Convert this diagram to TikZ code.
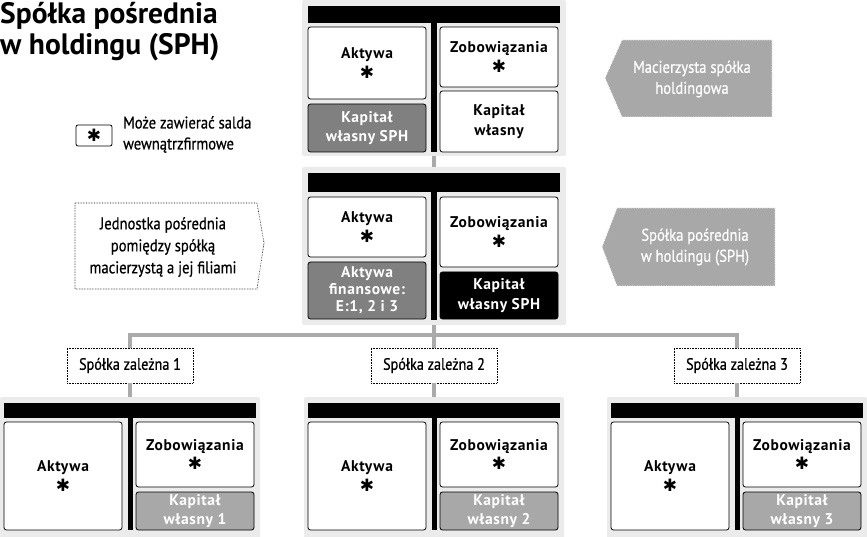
\documentclass[tikz,border=0pt]{standalone}
\usepackage{fontspec}
\setmainfont{PT Sans}
\newfontfamily\boxfont[LetterSpace=4]{PT Sans}
\newfontfamily\condfont[FakeStretch=0.86,FakeBold=0.6]{PT Sans}
\newfontfamily\symfont{DejaVu Sans}
\newcommand{\astk}{{\symfont\fontsize{17}{15}\selectfont ✱}}
\definecolor{panelgray}{HTML}{EBEBEB}
\definecolor{darkgr}{HTML}{808080}
\definecolor{lightgr}{HTML}{A8A8A8}
\definecolor{conngray}{HTML}{AAAAAA}
\begin{document}
\begin{tikzpicture}[x=1pt,y=-1pt,
  panel/.style={fill=panelgray, draw=none, rounded corners=2pt, inner sep=0},
  acc/.style={draw=black, line width=0.8pt, rounded corners=2.5pt, fill=white, inner sep=0,
    align=center, text=black, font=\boxfont\bfseries\fontsize{15.5}{19.5}\selectfont},
  darkacc/.style={acc, fill=darkgr, text=white},
  blackacc/.style={acc, fill=black, text=white},
  lightacc/.style={acc, fill=lightgr, text=white},
  conn/.style={draw=conngray, line width=4pt},
  szbox/.style={draw=black, densely dotted, line width=0.6pt, fill=white, inner sep=0,
    minimum width=126, minimum height=35, font=\condfont\fontsize{16.5}{18}\selectfont},
  callt/.style={align=center, inner sep=0, font=\condfont\fontsize{17}{21}\selectfont}
]
\useasboundingbox (0,0) rectangle (867,537);

% title
\node[anchor=base west, inner sep=0, font=\bfseries\fontsize{29.5}{31}\selectfont] (title1) at (0,24) {Spółka pośrednia};
\node[anchor=base west, inner sep=0, font=\bfseries\fontsize{29.5}{31}\selectfont] (title2) at (0,55) {w holdingu (SPH)};

% legend
\node[draw=black, line width=0.8pt, rounded corners=2pt, minimum width=36, minimum height=21, inner sep=0] (leg) at (94,135.5) {\astk};
\node[anchor=west, align=left, inner sep=0, font=\condfont\fontsize{17}{21}\selectfont] (legt) at (123,134.5) {Może zawierać salda\\wewnątrzfirmowe};

% parent panel
\node[panel, minimum width=264, minimum height=156] (p0) at (434,78) {};
\fill[black] (308,6) rectangle (560,23);
\fill[black] (431,23) rectangle (437,152);
\node[acc, minimum width=118, minimum height=72] (a0) at (367,63) {Aktywa\\\astk};
\node[darkacc, minimum width=118, minimum height=48] (k0) at (367,128) {Kapitał\\własny SPH};
\node[acc, minimum width=118, minimum height=60] (z0) at (499,57) {Zobowiązania\\\astk};
\node[acc, minimum width=118, minimum height=61] (kw0) at (499,121.5) {Kapitał\\własny};

% intermediate panel
\node[panel, minimum width=264, minimum height=158] (p1) at (434,246) {};
\fill[black] (308,173) rectangle (560,192);
\fill[black] (431,192) rectangle (437,320);
\node[acc, minimum width=118, minimum height=60] (a1) at (367,227) {Aktywa\\\astk};
\node[darkacc, minimum width=118, minimum height=57, font=\boxfont\bfseries\fontsize{15.5}{17}\selectfont] (af1) at (367,290.5) {Aktywa\\finansowe:\\E:1, 2 i 3};
\node[acc, minimum width=118, minimum height=70] (z1) at (499,232) {Zobowiązania\\\astk};
\node[blackacc, minimum width=118, minimum height=47] (k1) at (499,295.5) {Kapitał\\własny SPH};

\draw[conn] (p0.south) -- (p1.north);

% callouts
\fill[lightgr] (605,78) -- (622,40) -- (772,40) -- (772,117) -- (622,117) -- cycle;
\draw[white, densely dotted, line width=0.7pt] (605,78) -- (622,40) -- (772,40) -- (772,117) -- (622,117) -- cycle;
\node[callt, text=white] (mac) at (692,79) {Macierzysta spółka\\holdingowa};

\fill[lightgr] (602,247) -- (617,208) -- (775,208) -- (775,286) -- (617,286) -- cycle;
\draw[white, densely dotted, line width=0.7pt] (602,247) -- (617,208) -- (775,208) -- (775,286) -- (617,286) -- cycle;
\node[callt, text=white] (sph) at (695,247) {Spółka pośrednia\\w holdingu (SPH)};

\draw[black, densely dotted, line width=0.6pt, fill=white] (75,203) -- (257,203) -- (264,243) -- (257,289) -- (75,289) -- cycle;
\node[callt, font=\condfont\fontsize{17}{22}\selectfont] (jed) at (163,247) {Jednostka pośrednia\\pomiędzy spółką\\macierzystą a jej filiami};

% subsidiaries
\coordinate (hub) at (434,335);
\node[szbox] (sz1) at (130,365.5) {Spółka zależna 1};
\node[szbox] (sz2) at (434,365.5) {Spółka zależna 2};
\node[szbox] (sz3) at (737,365.5) {Spółka zależna 3};
\draw[conn] (p1.south) -- (hub);
\draw[conn] (hub) -| (sz1.north);
\draw[conn] (hub) -| (sz3.north);
\draw[conn] (hub) -- (sz2.north);

\foreach \i/\dx in {1/-304,2/0,3/303}{
  \begin{scope}[xshift=\dx]
    \node[panel, minimum width=260, minimum height=142] (pb\i) at (434,468) {};
    \fill[black] (308,403) rectangle (560,418);
    \fill[black] (432,418) rectangle (437,530);
    \node[acc, minimum width=118, minimum height=108] (ab\i) at (367,476) {Aktywa\\\astk};
    \node[acc, minimum width=118, minimum height=65] (zb\i) at (499,454.5) {Zobowiązania\\\astk};
    \node[lightacc, minimum width=118, minimum height=38] (kb\i) at (499,511) {Kapitał\\własny \i};
  \end{scope}
  \draw[conn] (sz\i.south) -- (pb\i.north);
}
\end{tikzpicture}
\end{document}
